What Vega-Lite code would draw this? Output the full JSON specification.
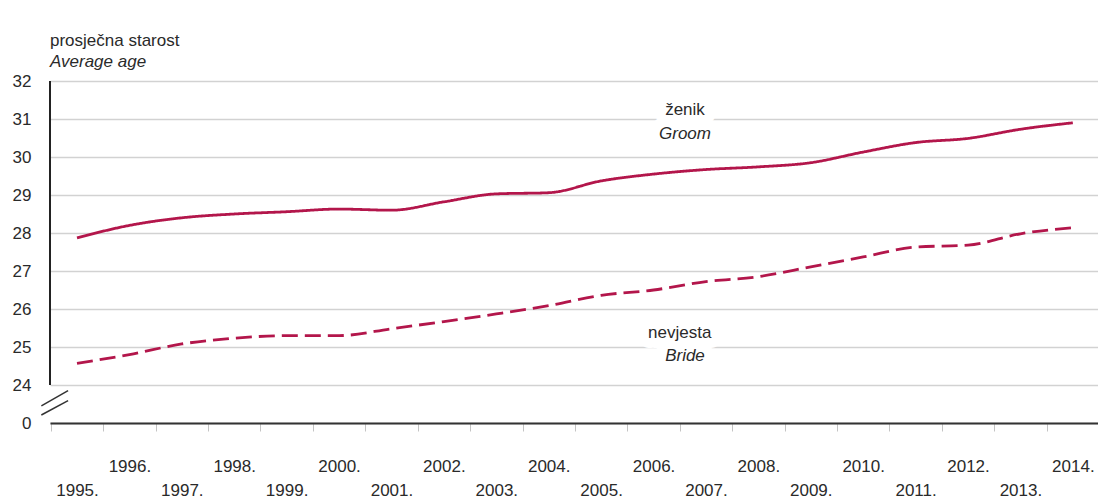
{
  "$schema": "https://vega.github.io/schema/vega-lite/v6.json",
  "width": 1048,
  "height": 342,
  "autosize": "none",
  "padding": {"left": 50, "top": 81, "right": 0, "bottom": 76},
  "background": "white",
  "config": {
    "view": {"stroke": null},
    "font": "Liberation Sans",
    "text": {"font": "Liberation Sans", "color": "#2a2a2a"}
  },
  "title": {
    "text": "prosječna starost",
    "subtitle": "Average age",
    "anchor": "start",
    "frame": "group",
    "orient": "top",
    "offset": 1,
    "fontSize": 17,
    "fontWeight": "normal",
    "color": "#2a2a2a",
    "subtitleFontSize": 17,
    "subtitleFontStyle": "italic",
    "subtitleColor": "#2a2a2a",
    "subtitlePadding": 4
  },
  "datasets": {
    "ages": [
      {"year": 1995, "series": "ženik", "age": 27.87},
      {"year": 1996, "series": "ženik", "age": 28.2},
      {"year": 1997, "series": "ženik", "age": 28.4},
      {"year": 1998, "series": "ženik", "age": 28.5},
      {"year": 1999, "series": "ženik", "age": 28.56},
      {"year": 2000, "series": "ženik", "age": 28.63},
      {"year": 2001, "series": "ženik", "age": 28.6},
      {"year": 2002, "series": "ženik", "age": 28.82},
      {"year": 2003, "series": "ženik", "age": 29.03},
      {"year": 2004, "series": "ženik", "age": 29.06},
      {"year": 2005, "series": "ženik", "age": 29.37},
      {"year": 2006, "series": "ženik", "age": 29.55},
      {"year": 2007, "series": "ženik", "age": 29.67},
      {"year": 2008, "series": "ženik", "age": 29.74},
      {"year": 2009, "series": "ženik", "age": 29.85},
      {"year": 2010, "series": "ženik", "age": 30.13},
      {"year": 2011, "series": "ženik", "age": 30.38},
      {"year": 2012, "series": "ženik", "age": 30.49},
      {"year": 2013, "series": "ženik", "age": 30.73},
      {"year": 2014, "series": "ženik", "age": 30.9},
      {"year": 1995, "series": "nevjesta", "age": 24.57},
      {"year": 1996, "series": "nevjesta", "age": 24.8},
      {"year": 1997, "series": "nevjesta", "age": 25.08},
      {"year": 1998, "series": "nevjesta", "age": 25.23},
      {"year": 1999, "series": "nevjesta", "age": 25.3},
      {"year": 2000, "series": "nevjesta", "age": 25.3},
      {"year": 2001, "series": "nevjesta", "age": 25.48},
      {"year": 2002, "series": "nevjesta", "age": 25.67},
      {"year": 2003, "series": "nevjesta", "age": 25.87},
      {"year": 2004, "series": "nevjesta", "age": 26.09},
      {"year": 2005, "series": "nevjesta", "age": 26.36},
      {"year": 2006, "series": "nevjesta", "age": 26.5},
      {"year": 2007, "series": "nevjesta", "age": 26.72},
      {"year": 2008, "series": "nevjesta", "age": 26.85},
      {"year": 2009, "series": "nevjesta", "age": 27.11},
      {"year": 2010, "series": "nevjesta", "age": 27.37},
      {"year": 2011, "series": "nevjesta", "age": 27.63},
      {"year": 2012, "series": "nevjesta", "age": 27.68},
      {"year": 2013, "series": "nevjesta", "age": 27.98},
      {"year": 2014, "series": "nevjesta", "age": 28.14}
    ],
    "labels": [
      {"label": "ženik", "lang": "hr", "year": 2006.6, "age": 31.25},
      {"label": "Groom", "lang": "en", "year": 2006.6, "age": 30.6},
      {"label": "nevjesta", "lang": "hr", "year": 2006.5, "age": 25.37},
      {"label": "Bride", "lang": "en", "year": 2006.6, "age": 24.76}
    ],
    "breaks": [
      {"x1": 1994.32, "x2": 1994.83, "y1": 23.45, "y2": 23.85},
      {"x1": 1994.32, "x2": 1994.83, "y1": 23.21, "y2": 23.59}
    ]
  },
  "layer": [
    {
      "data": {"name": "labels"},
      "mark": {"type": "text", "fontSize": 17, "fill": "white", "stroke": "white", "strokeWidth": 20, "strokeJoin": "round"},
      "encoding": {
        "x": {
          "field": "year",
          "type": "quantitative",
          "scale": {"domain": [1994.485, 2014.48], "nice": false, "zero": false},
          "axis": {
            "values": [1994.5, 1995.5, 1996.5, 1997.5, 1998.5, 1999.5, 2000.5, 2001.5, 2002.5, 2003.5, 2004.5, 2005.5, 2006.5, 2007.5, 2008.5, 2009.5, 2010.5, 2011.5, 2012.5, 2013.5],
            "tickCount": 40,
            "labelExpr": "(datum.value + 0.5) % 2 == 0 ? (datum.value + 0.5) + '.' : ['', (datum.value + 0.5) + '.']",
            "labelOffset": 26.2,
            "labelFontSize": 17,
            "labelColor": "#2a2a2a",
            "labelLineHeight": 24,
            "labelPadding": 27,
            "labelOverlap": false,
            "labelBound": false,
            "labelFlush": false,
            "labelBaseline": "top",
            "tickSize": 8,
            "tickColor": "#c4c4c4",
            "tickWidth": 1,
            "domainColor": "#333333",
            "domainWidth": 2,
            "grid": false,
            "title": null
          }
        },
        "y": {
          "field": "age",
          "type": "quantitative",
          "scale": {"domain": [23, 32], "nice": false, "zero": false},
          "axis": {
            "values": [23, 24, 25, 26, 27, 28, 29, 30, 31, 32],
            "tickCount": 20,
            "labelExpr": "datum.value == 23 ? '0' : datum.value",
            "labelFontSize": 17,
            "labelColor": "#2a2a2a",
            "labelPadding": 19,
            "labelOverlap": false,
            "labelBound": false,
            "labelFlush": false,
            "ticks": false,
            "domain": false,
            "grid": true,
            "gridColor": "#d2d2d2",
            "gridWidth": 1.5,
            "title": null
          }
        },
        "text": {"field": "label"}
      }
    },
    {
      "data": {"name": "labels"},
      "transform": [{"filter": "datum.lang == 'hr'"}],
      "mark": {"type": "text", "fontSize": 17, "fontStyle": "normal"},
      "encoding": {
        "x": {"field": "year", "type": "quantitative"},
        "y": {"field": "age", "type": "quantitative"},
        "text": {"field": "label"}
      }
    },
    {
      "data": {"name": "labels"},
      "transform": [{"filter": "datum.lang == 'en'"}],
      "mark": {"type": "text", "fontSize": 17, "fontStyle": "italic"},
      "encoding": {
        "x": {"field": "year", "type": "quantitative"},
        "y": {"field": "age", "type": "quantitative"},
        "text": {"field": "label"}
      }
    },
    {
      "data": {"values": [{}]},
      "mark": {"type": "rule", "color": "#222222", "strokeWidth": 2},
      "encoding": {
        "x": {"datum": 1994.485, "type": "quantitative"},
        "y": {"datum": 24, "type": "quantitative"},
        "y2": {"datum": 32}
      }
    },
    {
      "data": {"name": "breaks"},
      "mark": {"type": "rule", "color": "#333333", "strokeWidth": 1.5},
      "encoding": {
        "x": {"field": "x1", "type": "quantitative"},
        "x2": {"field": "x2"},
        "y": {"field": "y1", "type": "quantitative"},
        "y2": {"field": "y2"}
      }
    },
    {
      "data": {"name": "ages"},
      "mark": {"type": "line", "color": "#b3164b", "strokeWidth": 2.8, "interpolate": "monotone"},
      "encoding": {
        "x": {"field": "year", "type": "quantitative"},
        "y": {"field": "age", "type": "quantitative"},
        "detail": {"field": "series"},
        "strokeDash": {
          "field": "series",
          "type": "nominal",
          "scale": {"domain": ["ženik", "nevjesta"], "range": [[1, 0], [16, 7]]},
          "legend": null
        }
      }
    }
  ]
}
